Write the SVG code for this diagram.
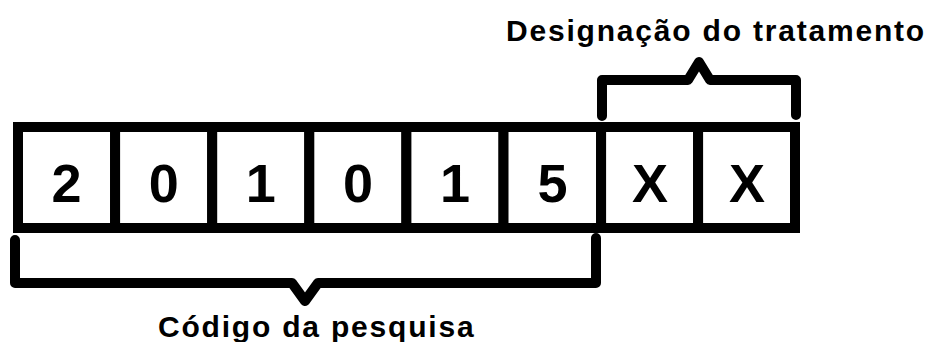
<svg xmlns="http://www.w3.org/2000/svg" width="935" height="342" viewBox="0 0 935 342">
<style>
.cell{fill:#fff;stroke:#000;stroke-width:10}
.d{font-family:"Liberation Sans",Arial,sans-serif;font-weight:bold;font-size:54px;fill:#000;text-anchor:middle}
.lbl{font-family:"Liberation Sans",Arial,sans-serif;font-weight:bold;font-size:30px;letter-spacing:1.8px;fill:#000}
.br{fill:none;stroke:#000;stroke-width:10;stroke-linecap:round;stroke-linejoin:round}
</style>
<rect width="935" height="342" fill="#fff"/>
<g id="c1"><rect class="cell" x="18" y="127" width="97.1" height="101"/><text class="d" x="66.6" y="202">2</text></g>
<g id="c2"><rect class="cell" x="115.1" y="127" width="97.1" height="101"/><text class="d" x="163.7" y="202">0</text></g>
<g id="c3"><rect class="cell" x="212.2" y="127" width="97.1" height="101"/><text class="d" x="260.8" y="202">1</text></g>
<g id="c4"><rect class="cell" x="309.3" y="127" width="97.1" height="101"/><text class="d" x="358" y="202">0</text></g>
<g id="c5"><rect class="cell" x="406.4" y="127" width="97.1" height="101"/><text class="d" x="455" y="202">1</text></g>
<g id="c6"><rect class="cell" x="503.5" y="127" width="97.6" height="101"/><text class="d" x="552.5" y="202">5</text></g>
<g id="c7"><rect class="cell" x="601.1" y="127" width="97" height="101"/><text class="d" x="650" y="202">X</text></g>
<g id="c8"><rect class="cell" x="698.1" y="127" width="96.9" height="101"/><text class="d" x="747" y="202">X</text></g>
<g id="connectors">
<path class="br" d="M602,116 V80 H688 L699,62 L710,80 H796 V115"/>
<path class="br" d="M15,240 V283 H292 L305,301 L318,283 H596 V238"/>
</g>
<g id="label-top"><text class="lbl" x="506" y="41">Designação do tratamento</text></g>
<g id="label-bottom"><text class="lbl" x="158" y="337">Código da pesquisa</text></g>
</svg>
